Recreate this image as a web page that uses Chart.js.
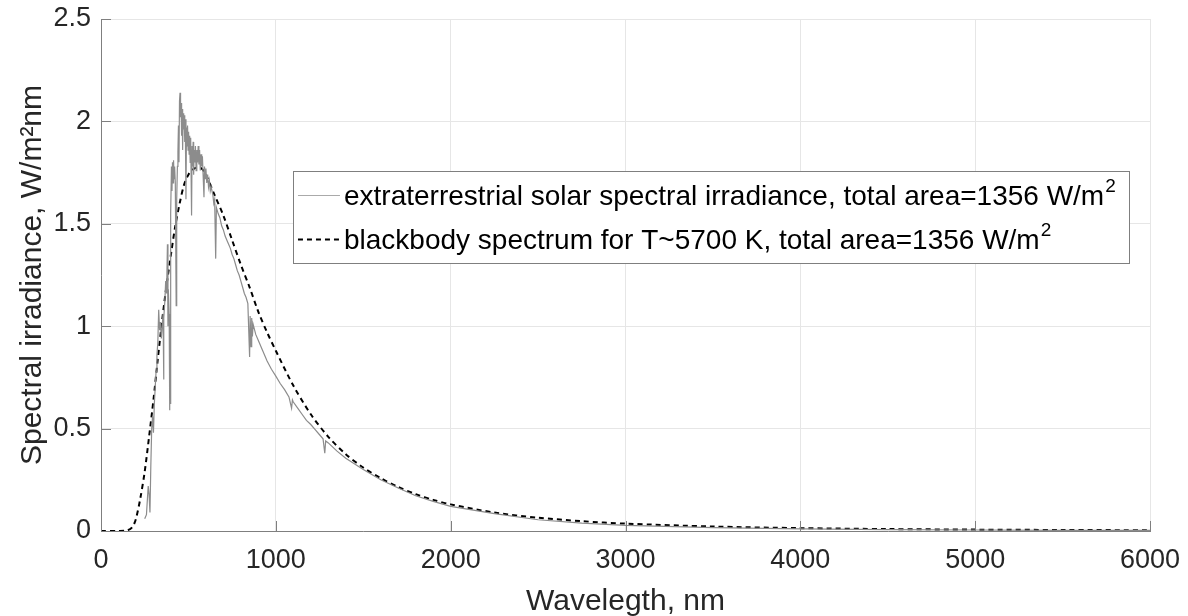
<!DOCTYPE html>
<html>
<head>
<meta charset="utf-8">
<script src="https://cdn.jsdelivr.net/npm/chart.js@4.4.1/dist/chart.umd.min.js"></script>
<style>
  html, body { margin: 0; padding: 0; background: #fff; }
  canvas { display: block; }
</style>
</head>
<body>
<canvas id="spectrumChart" width="1188" height="616"></canvas>
<script>
// solar spectrum, nm -> W/m2nm
const solarNm = [250, 260, 270, 275, 280, 285, 290, 295, 300, 305, 310, 315, 320, 325, 330, 335, 340, 345, 350, 355,
    358, 360, 365, 370, 375, 380, 383, 385, 390, 393, 395, 397, 400, 403, 406, 409, 412, 415, 418, 421,
    425, 430, 433, 437, 440, 443, 446, 449, 452, 455, 458, 461, 464, 467, 470, 473, 476, 479, 482, 486,
    489, 492, 495, 498, 501, 504, 507, 510, 513, 518, 521, 524, 527, 530, 533, 537, 540, 544, 548, 552,
    556, 560, 564, 568, 572, 576, 580, 584, 589, 592, 596, 600, 605, 610, 615, 620, 625, 630, 640, 645,
    650, 656, 660, 670, 680, 690, 700, 710, 720, 730, 740, 750, 760, 770, 780, 790, 800, 810, 820, 830,
    840, 850, 853, 858, 862, 866, 870, 885, 900, 925, 950, 975, 1000, 1025, 1050, 1075, 1090, 1095, 1100, 1125,
    1150, 1175, 1200, 1225, 1250, 1270, 1280, 1285, 1300, 1350, 1400, 1500, 1600, 1700, 1800, 1900, 2000, 2250, 2500, 2750,
    3000, 3500, 4000, 4500, 5000, 5500, 6000];
const solarVal = [0.06, 0.08, 0.22, 0.18, 0.09, 0.32, 0.50, 0.56, 0.48, 0.62, 0.70, 0.78, 0.86, 0.92, 1.08, 0.98, 1.02, 0.94, 1.00, 1.06,
    0.74, 1.04, 1.12, 1.22, 1.16, 1.40, 1.00, 1.18, 1.06, 0.59, 1.02, 0.62, 1.55, 1.78, 1.66, 1.80, 1.70, 1.81, 1.72, 1.78,
    1.70, 1.10, 1.62, 1.78, 1.85, 1.98, 1.80, 2.10, 2.14, 2.02, 2.09, 1.93, 2.06, 1.86, 2.04, 1.96, 2.03, 1.90, 2.01, 1.62,
    1.97, 1.88, 1.98, 1.86, 1.95, 1.84, 1.93, 1.80, 1.92, 1.54, 1.88, 1.78, 1.90, 1.74, 1.86, 1.80, 1.88, 1.76, 1.86, 1.80,
    1.88, 1.79, 1.86, 1.76, 1.84, 1.78, 1.83, 1.74, 1.63, 1.78, 1.72, 1.77, 1.70, 1.74, 1.68, 1.71, 1.66, 1.68, 1.64, 1.60,
    1.62, 1.33, 1.58, 1.55, 1.53, 1.49, 1.47, 1.44, 1.42, 1.40, 1.38, 1.35, 1.33, 1.30, 1.27, 1.25, 1.22, 1.19, 1.16, 1.14,
    1.11, 0.85, 1.05, 0.90, 1.04, 0.95, 1.01, 0.96, 0.93, 0.88, 0.83, 0.79, 0.756, 0.72, 0.69, 0.655, 0.60, 0.64, 0.63, 0.60,
    0.57, 0.54, 0.52, 0.495, 0.47, 0.45, 0.38, 0.44, 0.43, 0.39, 0.355, 0.30, 0.25, 0.21, 0.172, 0.145, 0.12, 0.085, 0.055, 0.038,
    0.027, 0.016, 0.010, 0.007, 0.005, 0.0035, 0.0026];

// blackbody curve
const bbNm = [0, 100, 150, 180, 200, 225, 250, 275, 300, 325, 350, 375, 400, 425, 450, 475, 500, 525, 550, 575,
    600, 650, 700, 750, 800, 850, 900, 950, 1000, 1100, 1200, 1300, 1400, 1500, 1600, 1700, 1800, 1900, 2000, 2250,
    2500, 2750, 3000, 3500, 4000, 4500, 5000, 5500, 6000];
const bbVal = [0, 0, 0.003, 0.02, 0.06, 0.16, 0.29, 0.46, 0.64, 0.84, 1.03, 1.20, 1.35, 1.49, 1.60, 1.69, 1.74, 1.765, 1.775, 1.77,
    1.74, 1.64, 1.54, 1.42, 1.30, 1.19, 1.07, 0.97, 0.88, 0.71, 0.57, 0.46, 0.375, 0.31, 0.258, 0.215, 0.18, 0.152, 0.13, 0.09,
    0.065, 0.048, 0.036, 0.022, 0.014, 0.0095, 0.0068, 0.005, 0.0038];

const xTicks = [0, 1000, 2000, 3000, 4000, 5000, 6000];
const yTicks = [0, 0.5, 1, 1.5, 2, 2.5];

const labels = [
    'extraterrestrial solar spectral irradiance, total area=1356 W/m\u00b2',
    'blackbody spectrum for T~5700 K, total area=1356 W/m\u00b2'
];

const FONT = 'Liberation Sans, Arial, Helvetica, sans-serif';
const TEXT = '#262626';
const AXIS = '#7f7f7f';

function toPoints(xs, ys) {
    return xs.map((x, i) => ({ x: x, y: ys[i] }));
}

// ticks pointing into the plot, like the original
const innerTicks = {
    id: 'innerTicks',
    afterDatasetsDraw(chart) {
        const ctx = chart.ctx;
        const a = chart.chartArea;
        ctx.save();
        ctx.strokeStyle = AXIS;
        ctx.lineWidth = 1;
        ctx.beginPath();
        xTicks.forEach(v => {
            const px = Math.round(chart.scales.x.getPixelForValue(v)) + 0.5;
            ctx.moveTo(px, a.bottom);
            ctx.lineTo(px, a.bottom - 10);
        });
        yTicks.forEach(v => {
            const py = Math.round(chart.scales.y.getPixelForValue(v)) + 0.5;
            ctx.moveTo(a.left, py);
            ctx.lineTo(a.left + 10, py);
        });
        ctx.stroke();
        ctx.restore();
    }
};

// text with a trailing superscript 2
function drawSup(ctx, text, x, y) {
    let base = text, sup = '';
    if (text.endsWith('\u00b2')) {
        base = text.slice(0, -1);
        sup = '2';
    }
    ctx.font = '28px ' + FONT;
    ctx.fillText(base, x, y);
    if (sup) {
        const w = ctx.measureText(base).width;
        ctx.font = '19px ' + FONT;
        ctx.fillText(sup, x + w + 1, y - 11);
    }
}

// boxed legend inside the axes
const legendBox = {
    id: 'legendBox',
    afterDraw(chart) {
        const ctx = chart.ctx;
        const a = chart.chartArea;
        const w = a.right - a.left, h = a.bottom - a.top;
        const left = a.left + 0.183 * w;
        const right = a.left + 0.98 * w;
        const top = a.top + 0.297 * h;
        const bottom = a.top + 0.477 * h;
        ctx.save();
        ctx.fillStyle = '#fff';
        ctx.fillRect(left, top, right - left, bottom - top);
        ctx.strokeStyle = AXIS;
        ctx.lineWidth = 1;
        ctx.strokeRect(Math.round(left) + 0.5, Math.round(top) + 0.5, Math.round(right - left), Math.round(bottom - top));
        const rows = [top + 0.26 * (bottom - top), top + 0.74 * (bottom - top)];
        chart.data.datasets.forEach((ds, i) => {
            const y = Math.round(rows[i]) + 0.5;
            ctx.strokeStyle = i === 0 ? 'rgb(170,170,170)' : ds.borderColor;
            ctx.lineWidth = ds.borderWidth;
            ctx.setLineDash(ds.borderDash || []);
            ctx.beginPath();
            ctx.moveTo(left + 5, y);
            ctx.lineTo(left + 47, y);
            ctx.stroke();
            ctx.setLineDash([]);
            ctx.fillStyle = '#000';
            ctx.textBaseline = 'middle';
            drawSup(ctx, ds.label, left + 51, y + 2);
        });
        ctx.restore();
    }
};

new Chart(document.getElementById('spectrumChart'), {
    type: 'line',
    data: {
        datasets: [{
            label: labels[0],
            data: toPoints(solarNm, solarVal),
            borderColor: 'rgb(140,140,140)',
            borderWidth: 1.2,
            pointRadius: 0,
            tension: 0
        }, {
            label: labels[1],
            data: toPoints(bbNm, bbVal),
            borderColor: '#000',
            borderWidth: 2,
            borderDash: [5, 4],
            pointRadius: 0,
            tension: 0.3
        }]
    },
    options: {
        responsive: false,
        animation: false,
        layout: { padding: { left: 15, top: 19, right: 38, bottom: 0 } },
        plugins: {
            legend: { display: false },
            tooltip: { enabled: false }
        },
        scales: {
            x: {
                type: 'linear',
                min: 0,
                max: 6000,
                afterFit: s => { s.height = 85; s.paddingLeft = 0; s.paddingRight = 0; },
                afterBuildTicks: s => { s.ticks = xTicks.map(v => ({ value: v })); },
                ticks: { callback: v => String(v), color: TEXT, font: { family: FONT, size: 27 }, padding: 13, maxRotation: 0 },
                grid: { color: '#e6e6e6', drawTicks: false },
                border: { color: AXIS },
                title: { display: true, text: 'Wavelegth, nm', color: TEXT, font: { family: FONT, size: 30 }, padding: { top: 0, bottom: -4 } }
            },
            y: {
                min: 0,
                max: 2.5,
                afterFit: s => { s.width = 86; s.paddingTop = 0; s.paddingBottom = 0; },
                afterBuildTicks: s => { s.ticks = yTicks.map(v => ({ value: v })); },
                ticks: { callback: v => String(v), color: TEXT, font: { family: FONT, size: 27 }, padding: 10 },
                grid: { color: '#e6e6e6', drawTicks: false },
                border: { color: AXIS },
                title: { display: true, text: 'Spectral irradiance, W/m\u00b2nm', color: TEXT, font: { family: FONT, size: 30 }, padding: { top: 0, bottom: 0 } }
            }
        }
    },
    plugins: [innerTicks, legendBox]
});
</script>
</body>
</html>
